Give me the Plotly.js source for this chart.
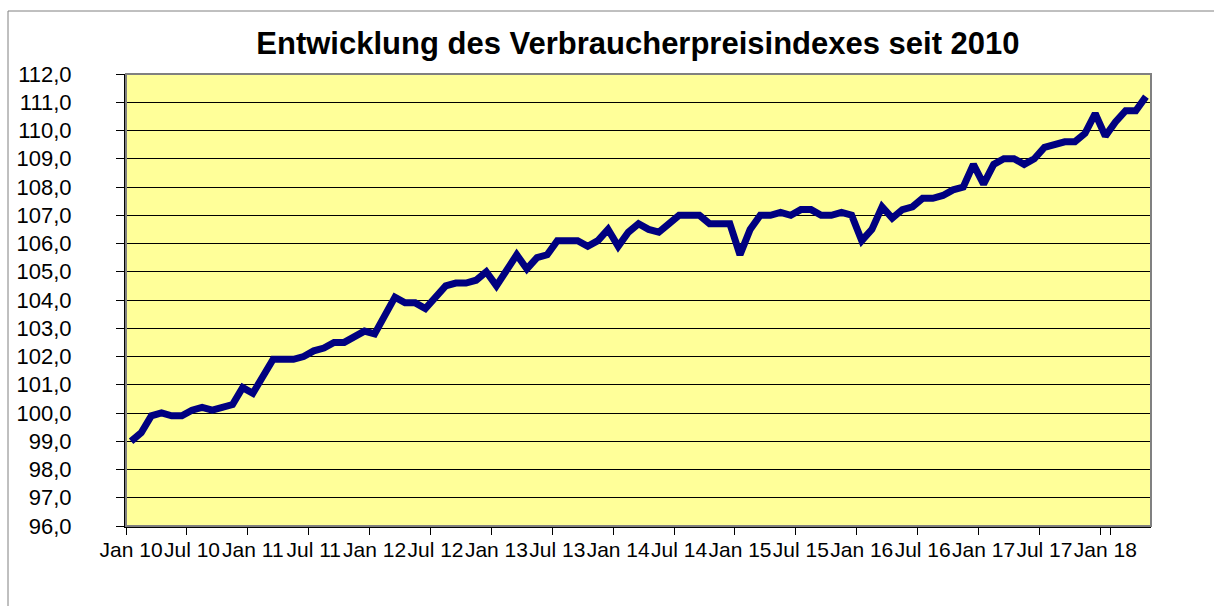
<!DOCTYPE html>
<html>
<head>
<meta charset="utf-8">
<script src="https://cdn.plot.ly/plotly-3.0.1.min.js"></script>
<style>
  html, body { margin: 0; padding: 0; background: #ffffff; }
  #chart { width: 1214px; height: 606px; }
</style>
</head>
<body>
<div id="chart"></div>
<script>
// Month categories (Jan 2010 - May 2018)
const months = [
  "Jan 10","Feb 10","Mär 10","Apr 10","Mai 10","Jun 10","Jul 10","Aug 10","Sep 10","Okt 10","Nov 10","Dez 10",
  "Jan 11","Feb 11","Mär 11","Apr 11","Mai 11","Jun 11","Jul 11","Aug 11","Sep 11","Okt 11","Nov 11","Dez 11",
  "Jan 12","Feb 12","Mär 12","Apr 12","Mai 12","Jun 12","Jul 12","Aug 12","Sep 12","Okt 12","Nov 12","Dez 12",
  "Jan 13","Feb 13","Mär 13","Apr 13","Mai 13","Jun 13","Jul 13","Aug 13","Sep 13","Okt 13","Nov 13","Dez 13",
  "Jan 14","Feb 14","Mär 14","Apr 14","Mai 14","Jun 14","Jul 14","Aug 14","Sep 14","Okt 14","Nov 14","Dez 14",
  "Jan 15","Feb 15","Mär 15","Apr 15","Mai 15","Jun 15","Jul 15","Aug 15","Sep 15","Okt 15","Nov 15","Dez 15",
  "Jan 16","Feb 16","Mär 16","Apr 16","Mai 16","Jun 16","Jul 16","Aug 16","Sep 16","Okt 16","Nov 16","Dez 16",
  "Jan 17","Feb 17","Mär 17","Apr 17","Mai 17","Jun 17","Jul 17","Aug 17","Sep 17","Okt 17","Nov 17","Dez 17",
  "Jan 18","Feb 18","Mär 18","Apr 18","Mai 18"
];

// Consumer price index values
const cpi = [
  99.0, 99.3, 99.9, 100.0, 99.9, 99.9, 100.1, 100.2, 100.1, 100.2, 100.3, 100.9,
  100.7, 101.3, 101.9, 101.9, 101.9, 102.0, 102.2, 102.3, 102.5, 102.5, 102.7, 102.9,
  102.8, 103.5, 104.1, 103.9, 103.9, 103.7, 104.1, 104.5, 104.6, 104.6, 104.7, 105.0,
  104.5, 105.1, 105.6, 105.1, 105.5, 105.6, 106.1, 106.1, 106.1, 105.9, 106.1, 106.5,
  105.9, 106.4, 106.7, 106.5, 106.4, 106.7, 107.0, 107.0, 107.0, 106.7, 106.7, 106.7,
  105.6, 106.5, 107.0, 107.0, 107.1, 107.0, 107.2, 107.2, 107.0, 107.0, 107.1, 107.0,
  106.1, 106.5, 107.3, 106.9, 107.2, 107.3, 107.6, 107.6, 107.7, 107.9, 108.0, 108.8,
  108.1, 108.8, 109.0, 109.0, 108.8, 109.0, 109.4, 109.5, 109.6, 109.6, 109.9, 110.6,
  109.8, 110.3, 110.7, 110.7, 111.2
];

// Tick labels shown on the x axis
const xTicks = [
  "Jan 10","Jul 10","Jan 11","Jul 11","Jan 12","Jul 12","Jan 13","Jul 13","Jan 14",
  "Jul 14","Jan 15","Jul 15","Jan 16","Jul 16","Jan 17","Jul 17","Jan 18"
];

const titleText = "Entwicklung des Verbraucherpreisindexes seit 2010";
const FONT = "Liberation Sans, Arial, sans-serif";

const trace = {
  x: months,
  y: cpi,
  type: "scatter",
  mode: "lines",
  line: { color: "#000080", width: 7, shape: "linear" },
  hoverinfo: "x+y",
  showlegend: false
};

const layout = {
  width: 1214,
  height: 606,
  margin: { l: 126, r: 63, t: 74, b: 80 },
  paper_bgcolor: "#ffffff",
  plot_bgcolor: "#FFFF99",
  separators: ",.",
  font: { family: FONT, size: 21, color: "#000000" },
  title: {
    text: "<b>" + titleText + "</b>",
    font: { family: FONT, size: 31, color: "#000000" },
    x: 0.5255, xanchor: "center", xref: "container",
    y: 1 - 43 / 606, yanchor: "middle", yref: "container"
  },
  xaxis: {
    type: "category",
    range: [-0.5, 100.5],
    tickmode: "array",
    tickvals: xTicks,
    ticktext: xTicks,
    tickson: "boundaries",
    ticks: "outside",
    ticklen: 7,
    tickwidth: 1,
    tickcolor: "#000000",
    tickangle: 0,
    showgrid: false,
    showline: true,
    linecolor: "#000000",
    linewidth: 2,
    zeroline: false,
    tickfont: { family: FONT, size: 21, color: "#000000" },
    ticklabelstandoff: 4,
    fixedrange: true
  },
  yaxis: {
    range: [96, 112],
    tick0: 96,
    dtick: 1,
    tickformat: ".1f",
    ticks: "outside",
    ticklen: 8,
    tickwidth: 1,
    tickcolor: "#000000",
    showgrid: true,
    gridcolor: "#000000",
    gridwidth: 1,
    showline: true,
    linecolor: "#000000",
    linewidth: 2,
    zeroline: false,
    tickfont: { family: FONT, size: 22, color: "#000000" },
    ticklabelstandoff: 40,
    fixedrange: true
  },
  shapes: [
    // plot area border (gray)
    {
      type: "rect", xref: "paper", yref: "paper",
      x0: 0, x1: 1, y0: 0, y1: 1,
      line: { color: "#808080", width: 2 },
      fillcolor: "rgba(0,0,0,0)",
      layer: "above"
    },
    // outer chart frame
    {
      type: "rect", xref: "paper", yref: "paper",
      x0: (8 - 126) / 1025, x1: 1.2,
      y0: -0.3, y1: (526 - 11) / 452,
      line: { color: "#808080", width: 1 },
      fillcolor: "rgba(0,0,0,0)",
      layer: "below"
    }
  ]
};

Plotly.newPlot("chart", [trace], layout, { displayModeBar: false, staticPlot: true });
</script>
</body>
</html>
